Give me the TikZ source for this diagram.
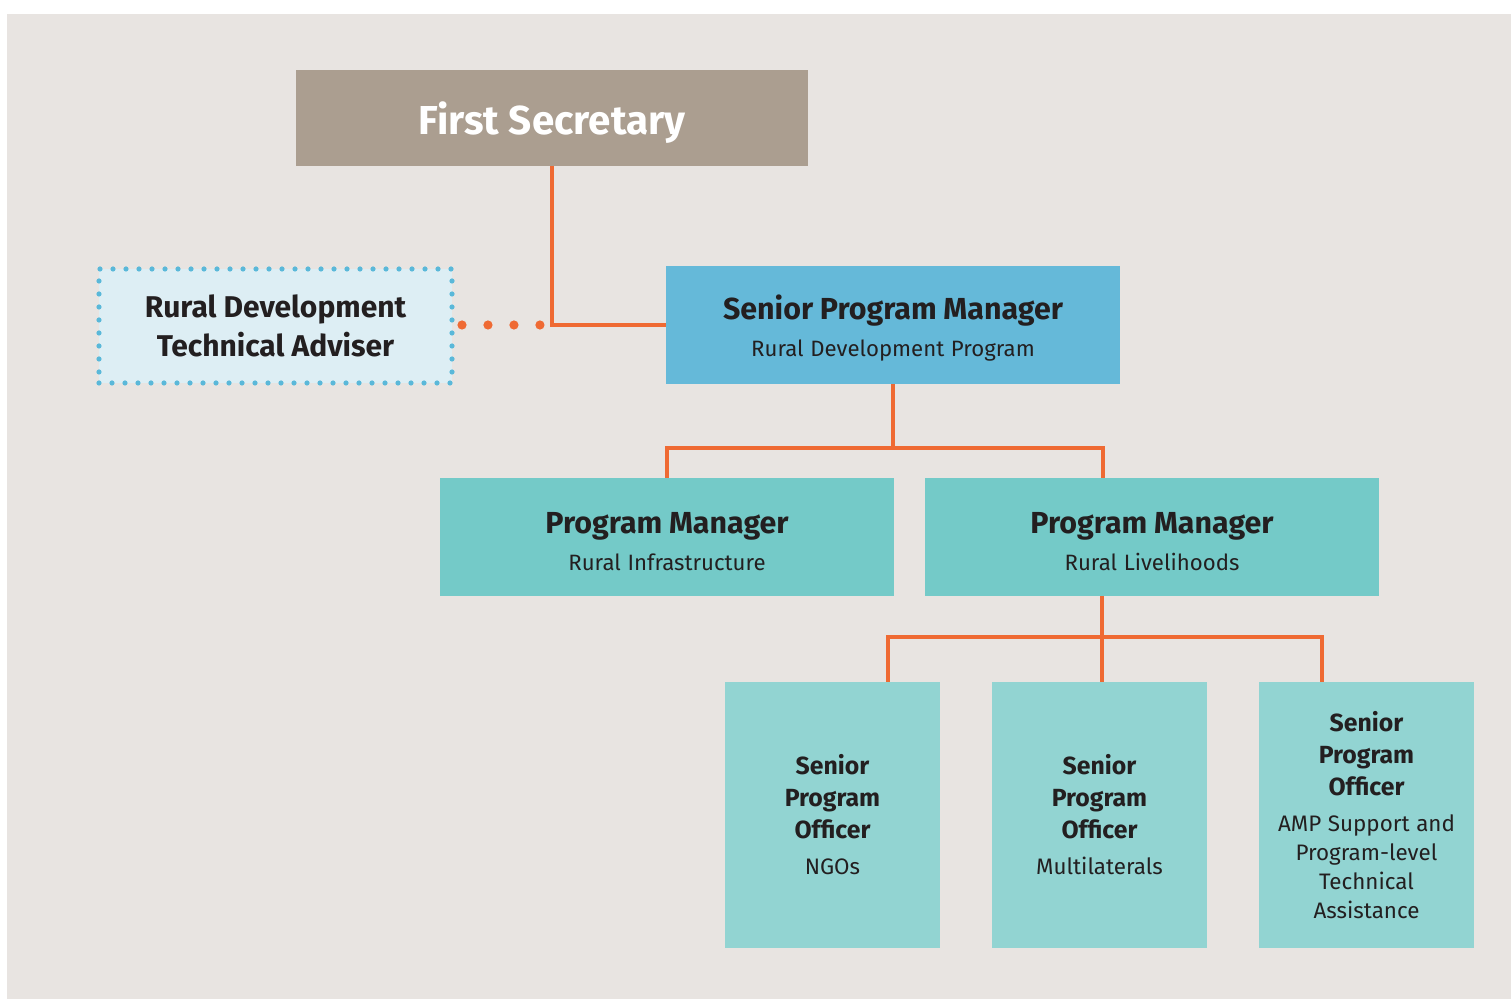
\documentclass[tikz,border=0pt]{standalone}
\usepackage{fontspec}
\setmainfont{Fira Sans}
\usetikzlibrary{positioning}
\definecolor{bgcol}{HTML}{E8E4E1}
\definecolor{fscol}{HTML}{AB9E90}
\definecolor{spmcol}{HTML}{65B9D9}
\definecolor{pmcol}{HTML}{74CAC8}
\definecolor{spocol}{HTML}{92D4D2}
\definecolor{advcol}{HTML}{DDEEF4}
\definecolor{advline}{HTML}{5AB8D9}
\definecolor{linkcol}{HTML}{EF6A33}
\definecolor{txtcol}{HTML}{231F20}
\newcommand{\mgrtitle}{\fontsize{15.2}{18}\selectfont\bfseries}
\newcommand{\mgrsub}{\fontsize{11.1}{14}\selectfont}
\newcommand{\spotitle}{\fontsize{12.4}{16}\selectfont\bfseries}
\newcommand{\sposub}{\fontsize{11.2}{14.5}\selectfont}

\begin{document}
\begin{tikzpicture}[
    x=0.5pt, y=-0.5pt,
    box/.style={rectangle, draw=none, inner sep=0pt, outer sep=0pt,
        align=center, text=txtcol},
    top/.style={box, fill=fscol, minimum width=256pt, minimum height=48pt,
        text depth=0pt, text=white, font=\fontsize{20.2}{24}\selectfont\bfseries},
    adviser/.style={box, fill=advcol, draw=advline, line width=2.6pt,
        line cap=round, dash pattern=on 0pt off 6.5pt,
        minimum width=176.5pt, minimum height=57pt,
        font=\fontsize{15}{19.5}\selectfont\bfseries},
    manager/.style={box, minimum width=227pt, minimum height=59pt,
        text width=220pt},
    officer/.style={box, fill=spocol, minimum width=107.5pt, minimum height=133pt,
        text width=104pt},
    link/.style={draw=linkcol, line width=2.4pt},
    dots/.style={draw=linkcol, line width=4.6pt, line cap=round,
        dash pattern=on 0pt off 12.99pt}
]
\fill[bgcol] (7,14) rectangle (1511,999);
\useasboundingbox (0,0) rectangle (1511,999);

\node (FirstSec) [top] at (552,118) {First Secretary};
\node (Adviser) [adviser] at (275.5,326) {Rural Development\\Technical Adviser};
\node (SeniorPM) [manager, fill=spmcol] at (893,325)
    {\vskip-3pt{\mgrtitle Senior Program Manager\par}\vskip4.5pt
     {\mgrsub Rural Development Program\par}};
\node (PMInfra) [manager, fill=pmcol] at (667,537)
    {\vskip-3pt{\mgrtitle Program Manager\par}\vskip4.5pt
     {\mgrsub Rural Infrastructure\par}};
\node (PMLive) [manager, fill=pmcol] at (1152,537)
    {\vskip-3pt{\mgrtitle Program Manager\par}\vskip4.5pt
     {\mgrsub Rural Livelihoods\par}};
\node (SPONgo) [officer] at (832.5,815)
    {{\spotitle Senior\\Program\\Officer\par}\vskip3.5pt
     {\sposub NGOs\par}};
\node (SPOMulti) [officer] at (1099.5,815)
    {{\spotitle Senior\\Program\\Officer\par}\vskip3.5pt
     {\sposub Multilaterals\par}};
\node (SPOAmp) [officer] at (1366.5,815)
    {{\spotitle Senior\\Program\\Officer\par}\vskip3.5pt
     {\sposub AMP Support and\\Program-level\\Technical\\Assistance\par}};

\coordinate (elbow) at (FirstSec.south |- SeniorPM.west);
\coordinate (bar1) at (893,448);
\coordinate (LiveTop) at ([xshift=-24.5pt]PMLive.north);
\coordinate (LiveBot) at ([xshift=-25pt]PMLive.south);
\coordinate (bar2) at (LiveBot |- 0,637);

\draw[link] (FirstSec.south) |- (SeniorPM.west);
\draw[dots, shorten <=5pt, shorten >=6pt] (Adviser.east |- elbow) -- (elbow);
\draw[link] (SeniorPM.south) -- (bar1);
\draw[link] (PMInfra.north) |- (bar1) -| (LiveTop);
\draw[link] (LiveBot) -- ([xshift=1.25pt]SPOMulti.north);
\draw[link] ([xshift=27.75pt]SPONgo.north) |- (bar2) -| ([xshift=-22.25pt]SPOAmp.north);
\end{tikzpicture}
\end{document}
